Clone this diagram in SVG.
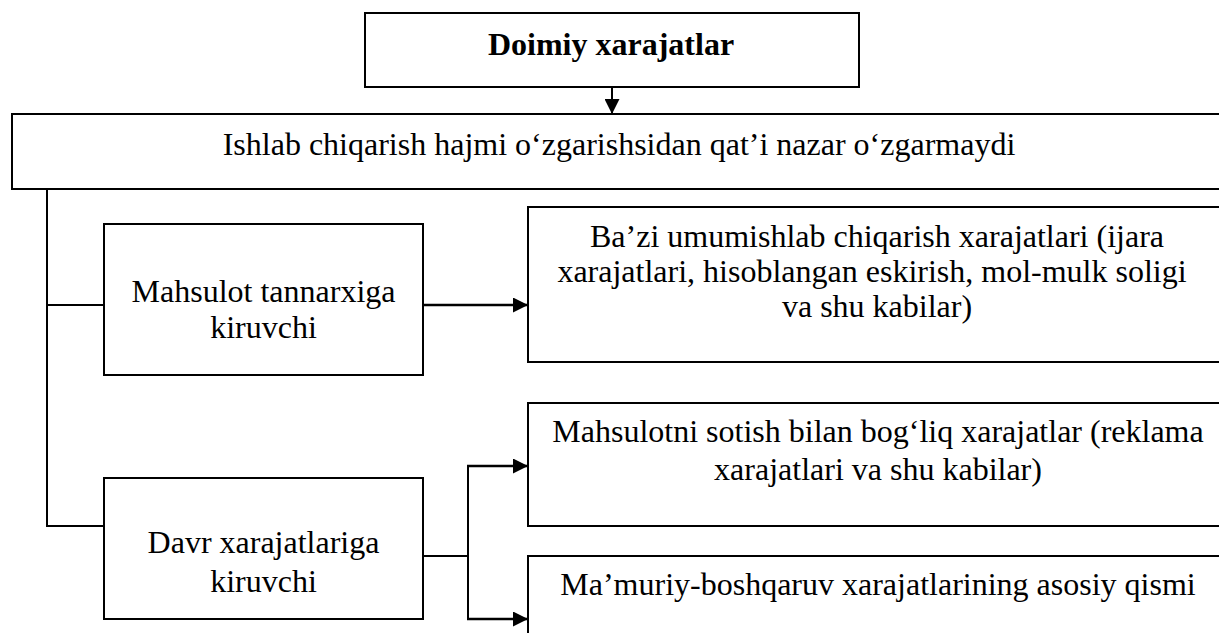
<svg xmlns="http://www.w3.org/2000/svg" width="1219" height="633" viewBox="0 0 1219 633">
  <style>
    .box { fill: #fff; stroke: #000; stroke-width: 2; }
    .lbl { font-family: "Liberation Serif", "Times New Roman", serif; font-size: 32px; fill: #000; text-anchor: middle; }
    .bold { font-weight: bold; }
    .wire { fill: none; stroke: #000; stroke-width: 2; }
    .wire.thick { stroke-width: 2.5; }
  </style>
  <defs>
    <marker id="arrow" viewBox="0 0 15 15" refX="15" refY="7.5" markerWidth="15" markerHeight="15" markerUnits="userSpaceOnUse" orient="auto">
      <path d="M0,0 L15,7.5 L0,15 z" fill="#000"/>
    </marker>
  </defs>
  <rect width="1219" height="633" fill="#fff"/>

  <!-- connectors -->
  <g id="connectors">
    <line class="wire" x1="612" y1="87" x2="612" y2="114" marker-end="url(#arrow)"/>
    <polyline class="wire" points="47,189 47,526 104,526"/>
    <line class="wire" x1="47" y1="305" x2="104" y2="305"/>
    <line class="wire thick" x1="423" y1="305" x2="528" y2="305" marker-end="url(#arrow)"/>
    <line class="wire" x1="423" y1="556" x2="468" y2="556"/>
    <line class="wire" x1="468" y1="466" x2="468" y2="619"/>
    <line class="wire thick" x1="467" y1="466" x2="528" y2="466" marker-end="url(#arrow)"/>
    <line class="wire thick" x1="467" y1="619" x2="528" y2="619" marker-end="url(#arrow)"/>
  </g>

  <g id="node-doimiy">
    <rect class="box" x="365" y="13" width="494" height="74"/>
    <text class="lbl bold" x="611" y="55">Doimiy xarajatlar</text>
  </g>

  <g id="node-hajm">
    <rect class="box" x="12" y="114" width="1216" height="75"/>
    <text class="lbl" x="619" y="155">Ishlab chiqarish hajmi o‘zgarishsidan qat’i nazar o‘zgarmaydi</text>
  </g>

  <g id="node-tannarx">
    <rect class="box" x="104" y="224" width="319" height="151"/>
    <text class="lbl" x="263.5" y="302">Mahsulot tannarxiga</text>
    <text class="lbl" x="263.5" y="338">kiruvchi</text>
  </g>

  <g id="node-umumishlab">
    <rect class="box" x="528" y="207" width="700" height="155"/>
    <text class="lbl" x="877" y="247">Ba’zi umumishlab chiqarish xarajatlari (ijara</text>
    <text class="lbl" x="872" y="282">xarajatlari, hisoblangan eskirish, mol-mulk soligi</text>
    <text class="lbl" x="877" y="317">va shu kabilar)</text>
  </g>

  <g id="node-davr">
    <rect class="box" x="104" y="478" width="319" height="141"/>
    <text class="lbl" x="263.5" y="553">Davr xarajatlariga</text>
    <text class="lbl" x="263.5" y="592">kiruvchi</text>
  </g>

  <g id="node-sotish">
    <rect class="box" x="528" y="403" width="700" height="123"/>
    <text class="lbl" x="878" y="442">Mahsulotni sotish bilan bog‘liq xarajatlar (reklama</text>
    <text class="lbl" x="878" y="480">xarajatlari va shu kabilar)</text>
  </g>

  <g id="node-boshqaruv">
    <rect class="box" x="528" y="556" width="700" height="90"/>
    <text class="lbl" x="878" y="595">Ma’muriy-boshqaruv xarajatlarining asosiy qismi</text>
  </g>
</svg>
